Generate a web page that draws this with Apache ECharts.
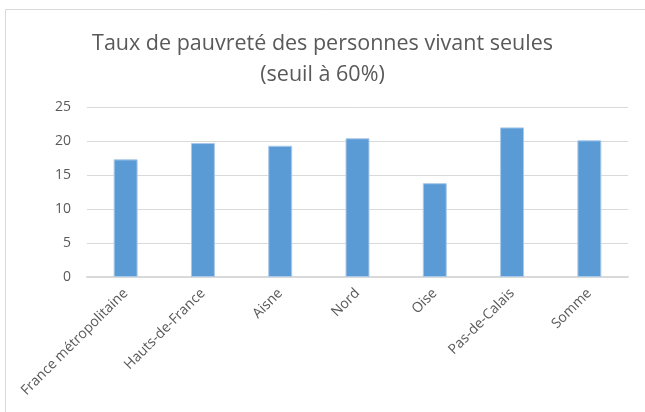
<!DOCTYPE html>
<html>
<head>
    <meta charset="utf-8">
    <title>Taux de pauvreté</title>
    <script src="https://cdn.jsdelivr.net/npm/echarts@6/dist/echarts.min.js"></script>
    <style>
        html, body { margin: 0; padding: 0; background: #fff; }
    </style>
</head>
<body>
<div id="main" style="width: 645px;height:412px;"></div>
<script>
// données
var categories = ['France métropolitaine', 'Hauts-de-France', 'Aisne', 'Nord', 'Oise', 'Pas-de-Calais', 'Somme'];
var valeurs = [17.3, 19.7, 19.3, 20.4, 13.8, 22.0, 20.1];
var yTicks = [0, 5, 10, 15, 20, 25];

var myChart = echarts.init(document.getElementById('main'));
myChart.setOption({
    animation: false,
    textStyle: { fontFamily: 'Open Sans' },
    title: {
        text: 'Taux de pauvreté des personnes vivant seules\n(seuil à 60%)',
        left: 'center',
        top: 23,
        textStyle: {
            color: '#595959',
            fontSize: 21.5,
            fontWeight: 'normal',
            lineHeight: 31,
            fontFamily: 'Open Sans'
        }
    },
    graphic: [{
        type: 'rect',
        shape: { x: 5.5, y: 9.5, width: 700, height: 500 },
        style: { fill: 'none', stroke: '#d9d9d9', lineWidth: 1 },
        silent: true
    }],
    grid: {
        left: 87,
        right: 17,
        top: 107,
        bottom: 135
    },
    xAxis: {
        type: 'category',
        data: categories,
        axisTick: { show: false },
        axisLine: { lineStyle: { color: '#d9d9d9', width: 2 } },
        axisLabel: {
            rotate: 45,
            color: '#595959',
            fontSize: 14,
            margin: 14,
            interval: 0
        }
    },
    yAxis: {
        type: 'value',
        min: yTicks[0],
        max: yTicks[yTicks.length - 1],
        interval: 5,
        axisLine: { show: false },
        axisTick: { show: false },
        axisLabel: { color: '#595959', fontSize: 14, margin: 16 },
        splitLine: { lineStyle: { color: '#d9d9d9' } }
    },
    series: [{
        type: 'bar',
        data: valeurs,
        barWidth: '31%',
        itemStyle: { color: '#5b9bd5', borderColor: '#a9c9ea', borderWidth: 1 }
    }]
});
</script>
</body>
</html>
